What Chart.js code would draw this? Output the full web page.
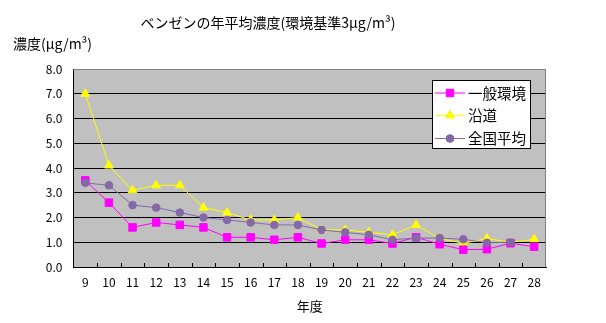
<!DOCTYPE html>
<html>
<head>
<meta charset="utf-8">
<script src="https://cdn.jsdelivr.net/npm/chart.js@4.4.1/dist/chart.umd.min.js"></script>
<style>
  html, body { margin: 0; padding: 0; background: #fff; }
  #wrap { width: 606px; height: 323px; position: relative; }
</style>
</head>
<body>
<div id="wrap"><canvas id="myChart" width="606" height="323"></canvas></div>
<script>
// datos (年度 9..28)
const years = ['9','10','11','12','13','14','15','16','17','18','19','20','21','22','23','24','25','26','27','28'];
const ippanKankyo = [3.5, 2.6, 1.6, 1.8, 1.7, 1.6, 1.2, 1.2, 1.1, 1.2, 0.95, 1.1, 1.1, 0.95, 1.2, 0.92, 0.7, 0.72, 0.96, 0.82];
const endou = [7.0, 4.1, 3.1, 3.3, 3.3, 2.4, 2.2, 1.9, 1.9, 2.0, 1.5, 1.5, 1.4, 1.3, 1.7, 1.15, 0.96, 1.15, 1.0, 1.12];
const zenkokuHeikin = [3.4, 3.3, 2.5, 2.4, 2.2, 2.0, 1.9, 1.8, 1.7, 1.7, 1.5, 1.4, 1.3, 1.1, 1.17, 1.17, 1.12, 0.98, 1.0, null];
const seriesNames = ['一般環境', '沿道', '全国平均'];
const yTicks = [0, 1, 2, 3, 4, 5, 6, 7, 8];

const titleText = 'ベンゼンの年平均濃度(環境基準3μg/m³)';
const yTitleText = '濃度(μg/m³)';
const FONT = '"Noto Sans CJK JP", "DejaVu Sans", sans-serif';

const colors = ['#ff00ff', '#ffff00', '#8468a8'];
const pointStyles = ['rect', 'triangle', 'circle'];
const pointSizes = [5.3, 5, 3.8];

// fondo gris, marco, ticks del eje x, titulos y leyenda
const excelPlugin = {
  id: 'excelLook',
  beforeDraw(chart) {
    const { ctx, chartArea: a } = chart;
    ctx.save();
    ctx.fillStyle = '#c0c0c0';
    ctx.fillRect(a.left, a.top, a.right - a.left, a.bottom - a.top);
    ctx.restore();
  },
  beforeDatasetsDraw(chart) {
    const { ctx, chartArea: a, scales } = chart;
    ctx.save();
    // marco gris arriba y a la derecha
    ctx.strokeStyle = '#808080';
    ctx.lineWidth = 1;
    ctx.beginPath();
    ctx.moveTo(a.left, a.top + 0.5);
    ctx.lineTo(a.right - 0.5, a.top + 0.5);
    ctx.lineTo(a.right - 0.5, a.bottom);
    ctx.stroke();
    // marcas entre categorias
    ctx.strokeStyle = '#000';
    ctx.beginPath();
    for (let i = 1; i < years.length; i++) {
      const x = Math.round((scales.x.getPixelForValue(i - 1) + scales.x.getPixelForValue(i)) / 2) + 0.5;
      ctx.moveTo(x, a.bottom);
      ctx.lineTo(x, a.bottom - 4);
    }
    ctx.stroke();
    ctx.restore();
  },
  afterDraw(chart) {
    const { ctx } = chart;
    ctx.save();
    ctx.fillStyle = '#000';
    ctx.textBaseline = 'middle';
    ctx.font = '14px ' + FONT;
    ctx.textAlign = 'center';
    ctx.fillText(titleText, 268, 23);
    ctx.textAlign = 'left';
    ctx.font = '14px ' + FONT;
    ctx.fillText(yTitleText, 13, 44);

    // leyenda dentro del area
    const box = { x: 432.5, y: 80.5, w: 98, h: 68 };
    ctx.fillStyle = '#fff';
    ctx.fillRect(box.x, box.y, box.w, box.h);
    ctx.strokeStyle = '#000';
    ctx.lineWidth = 1;
    ctx.strokeRect(box.x, box.y, box.w, box.h);
    const rows = [92.5, 115, 138];
    ctx.font = '14.5px ' + FONT;
    seriesNames.forEach((name, i) => {
      const y = rows[i];
      ctx.strokeStyle = colors[i];
      ctx.beginPath();
      ctx.moveTo(435, y + 0.5);
      ctx.lineTo(465, y + 0.5);
      ctx.stroke();
      Chart.helpers.drawPoint(ctx, {
        pointStyle: pointStyles[i], radius: pointSizes[i], borderWidth: 1
      }, 450, y + 0.5);
      ctx.fillStyle = colors[i];
      ctx.strokeStyle = colors[i];
      ctx.fill();
      ctx.fillStyle = '#000';
      ctx.fillText(name, 468, y + 0.5);
    });
    ctx.restore();
  }
};

function makeDataset(label, data, i) {
  return {
    label: label,
    data: data,
    borderColor: colors[i],
    backgroundColor: colors[i],
    borderWidth: 1,
    pointStyle: pointStyles[i],
    pointRadius: pointSizes[i],
    pointBorderWidth: 1,
    pointBorderColor: colors[i],
    pointBackgroundColor: colors[i],
    tension: 0,
    order: [2, 3, 1][i]
  };
}

const ctx = document.getElementById('myChart');
new Chart(ctx, {
  type: 'line',
  data: {
    labels: years,
    datasets: [
      makeDataset(seriesNames[0], ippanKankyo, 0),
      makeDataset(seriesNames[1], endou, 1),
      makeDataset(seriesNames[2], zenkokuHeikin, 2)
    ]
  },
  plugins: [excelPlugin],
  options: {
    responsive: false,
    animation: false,
    events: [],
    layout: { padding: { top: 69, right: 60, left: 0, bottom: 0 } },
    plugins: { legend: { display: false }, tooltip: { enabled: false }, title: { display: false } },
    scales: {
      x: {
        offset: true,
        grid: { display: false },
        border: { display: true, color: '#000', width: 1 },
        ticks: { color: '#000', font: { family: FONT, size: 12 }, padding: 0, maxRotation: 0, autoSkip: false },
        title: { display: true, text: '年度', color: '#000', font: { family: FONT, size: 13 }, padding: { top: 4, bottom: 9 } },
        afterFit(scale) { scale.height = 56; }
      },
      y: {
        min: 0,
        max: 8,
        afterBuildTicks(scale) { scale.ticks = yTicks.map(v => ({ value: v })); },
        grid: {
          drawTicks: false,
          color: c => (c.tick.value === 0 || c.tick.value === 8) ? 'rgba(0,0,0,0)' : '#000'
        },
        border: { display: true, color: '#000', width: 1 },
        ticks: {
          color: '#000',
          padding: 11,
          font: { family: FONT, size: 12 },
          callback: v => Number(v).toFixed(1)
        },
        afterFit(scale) { scale.width = 73.5; }
      }
    }
  }
});
</script>
</body>
</html>
